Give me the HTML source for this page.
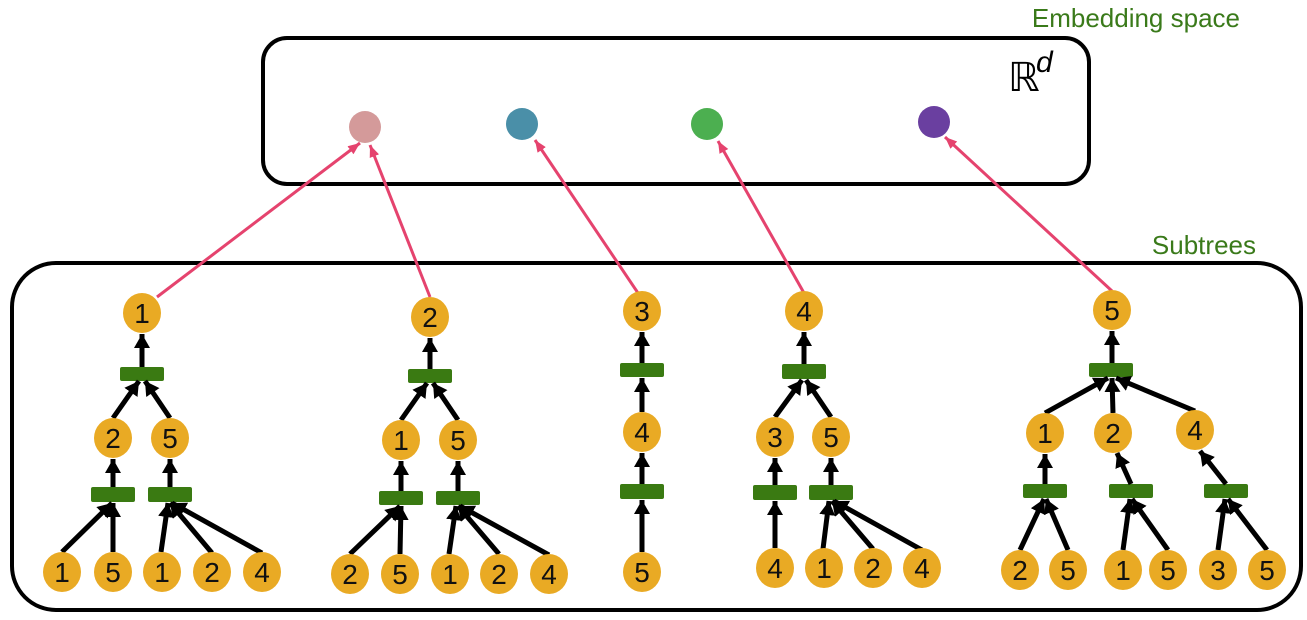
<!DOCTYPE html>
<html><head><meta charset="utf-8"><style>
html,body{margin:0;padding:0;background:#fff;}
svg{display:block;}
text{font-family:"Liberation Sans",sans-serif;}
</style></head><body>
<svg width="1307" height="620" viewBox="0 0 1307 620" xmlns="http://www.w3.org/2000/svg">
<defs>
<marker id="ah" markerUnits="userSpaceOnUse" markerWidth="18" markerHeight="18" refX="14" refY="8" orient="auto">
<path d="M0,0 L14,8 L0,16 z" fill="#000"/>
</marker>
<marker id="ph" markerUnits="userSpaceOnUse" markerWidth="14" markerHeight="12" refX="12" refY="5" orient="auto">
<path d="M0,0 L12,5 L0,10 z" fill="#e5436e"/>
</marker>
</defs>
<text x="1240" y="27" font-size="26" fill="#3a7a1a" text-anchor="end">Embedding space</text>
<text x="1256" y="254" font-size="26" fill="#3a7a1a" text-anchor="end">Subtrees</text>
<rect x="263" y="38" width="826" height="146" rx="24" fill="none" stroke="#000" stroke-width="4"/>
<rect x="12" y="263" width="1289" height="347" rx="44" fill="none" stroke="#000" stroke-width="4"/>
<text x="1008" y="91" font-size="40" font-family="Liberation Serif,serif" fill="#000">ℝ</text>
<text x="1036" y="72" font-size="30" font-style="italic" font-family="Liberation Serif,serif" fill="#000">d</text>
<ellipse cx="365" cy="127" rx="16" ry="16" fill="#d49a9a"/>
<ellipse cx="522" cy="124" rx="16" ry="16" fill="#4a8fa8"/>
<ellipse cx="707" cy="124" rx="16" ry="16" fill="#4caf50"/>
<ellipse cx="934" cy="122" rx="16" ry="16" fill="#6a3fa0"/>
<g stroke="#e5436e" stroke-width="3" marker-end="url(#ph)">
<line x1="157" y1="297" x2="360" y2="143"/>
<line x1="430" y1="297" x2="370" y2="145"/>
<line x1="638" y1="293" x2="535" y2="140"/>
<line x1="804" y1="293" x2="718" y2="141"/>
<line x1="1112" y1="291" x2="945" y2="137"/>
</g>
<g fill="#3a7a12">
<rect x="120" y="367" width="44" height="14" rx="2"/>
<rect x="91" y="487" width="44" height="15" rx="2"/><rect x="148" y="487" width="44" height="15" rx="2"/>
<rect x="408" y="369" width="44" height="14" rx="2"/>
<rect x="379" y="491" width="44" height="14" rx="2"/><rect x="436" y="491" width="44" height="14" rx="2"/>
<rect x="620" y="363" width="44" height="14" rx="2"/><rect x="620" y="484" width="44" height="15" rx="2"/>
<rect x="782" y="364" width="44" height="15" rx="2"/>
<rect x="753" y="485" width="44" height="15" rx="2"/><rect x="809" y="485" width="44" height="15" rx="2"/>
<rect x="1089" y="363" width="44" height="14" rx="2"/>
<rect x="1023" y="484" width="44" height="14" rx="2"/><rect x="1109" y="484" width="44" height="14" rx="2"/><rect x="1204" y="484" width="44" height="14" rx="2"/>
</g>
<g stroke="#000" stroke-width="5" marker-end="url(#ah)">
<line x1="142" y1="367" x2="142" y2="334"/>
<line x1="113" y1="418" x2="139" y2="381"/><line x1="170" y1="418" x2="145" y2="381"/>
<line x1="113" y1="487" x2="113" y2="459"/><line x1="170" y1="487" x2="170" y2="459"/>
<line x1="62" y1="552" x2="112" y2="503"/><line x1="113" y1="552" x2="113" y2="503"/>
<line x1="161" y1="552" x2="168" y2="503"/><line x1="212" y1="553" x2="170" y2="503"/><line x1="262" y1="553" x2="172" y2="503"/>
<line x1="430" y1="369" x2="430" y2="338"/>
<line x1="401" y1="420" x2="427" y2="383"/><line x1="458" y1="420" x2="433" y2="383"/>
<line x1="401" y1="491" x2="401" y2="461"/><line x1="458" y1="491" x2="458" y2="461"/>
<line x1="350" y1="554" x2="400" y2="506"/><line x1="400" y1="554" x2="401" y2="506"/>
<line x1="449" y1="554" x2="456" y2="506"/><line x1="499" y1="554" x2="458" y2="506"/><line x1="549" y1="555" x2="460" y2="506"/>
<line x1="642" y1="363" x2="642" y2="332"/>
<line x1="642" y1="412" x2="642" y2="378"/>
<line x1="642" y1="484" x2="642" y2="453"/>
<line x1="642" y1="552" x2="642" y2="500"/>
<line x1="804" y1="364" x2="804" y2="332"/>
<line x1="775" y1="417" x2="802" y2="380"/><line x1="831" y1="417" x2="806" y2="380"/>
<line x1="775" y1="485" x2="775" y2="458"/><line x1="831" y1="485" x2="831" y2="458"/>
<line x1="775" y1="548" x2="775" y2="501"/>
<line x1="823" y1="549" x2="829" y2="501"/><line x1="873" y1="549" x2="832" y2="501"/><line x1="922" y1="550" x2="834" y2="501"/>
<line x1="1112" y1="363" x2="1112" y2="331"/>
<line x1="1045" y1="413" x2="1108" y2="378"/><line x1="1113" y1="413" x2="1112" y2="378"/><line x1="1195" y1="411" x2="1116" y2="378"/>
<line x1="1045" y1="484" x2="1045" y2="454"/><line x1="1131" y1="484" x2="1117" y2="453"/><line x1="1226" y1="484" x2="1200" y2="451"/>
<line x1="1020" y1="550" x2="1044" y2="499"/><line x1="1068" y1="550" x2="1046" y2="499"/>
<line x1="1123" y1="550" x2="1130" y2="499"/><line x1="1168" y1="550" x2="1132" y2="499"/>
<line x1="1218" y1="550" x2="1225" y2="499"/><line x1="1267" y1="550" x2="1228" y2="499"/>
</g>
<g fill="#e9aa24">
<ellipse cx="142" cy="313" rx="19" ry="20"/><ellipse cx="113" cy="438" rx="19" ry="20"/><ellipse cx="170" cy="438" rx="19" ry="20"/>
<ellipse cx="62" cy="572" rx="19" ry="20"/><ellipse cx="113" cy="572" rx="19" ry="20"/><ellipse cx="162" cy="572" rx="19" ry="20"/><ellipse cx="212" cy="572" rx="19" ry="20"/><ellipse cx="262" cy="572" rx="19" ry="20"/>
<ellipse cx="430" cy="317" rx="19" ry="20"/><ellipse cx="401" cy="440" rx="19" ry="20"/><ellipse cx="458" cy="440" rx="19" ry="20"/>
<ellipse cx="350" cy="574" rx="19" ry="20"/><ellipse cx="400" cy="574" rx="19" ry="20"/><ellipse cx="450" cy="574" rx="19" ry="20"/><ellipse cx="499" cy="574" rx="19" ry="20"/><ellipse cx="549" cy="574" rx="19" ry="20"/>
<ellipse cx="642" cy="311" rx="19" ry="20"/><ellipse cx="642" cy="432" rx="19" ry="20"/><ellipse cx="642" cy="572" rx="19" ry="20"/>
<ellipse cx="804" cy="311" rx="19" ry="20"/><ellipse cx="775" cy="437" rx="19" ry="20"/><ellipse cx="831" cy="437" rx="19" ry="20"/>
<ellipse cx="775" cy="568" rx="19" ry="20"/><ellipse cx="824" cy="568" rx="19" ry="20"/><ellipse cx="873" cy="568" rx="19" ry="20"/><ellipse cx="922" cy="568" rx="19" ry="20"/>
<ellipse cx="1112" cy="310" rx="19" ry="20"/><ellipse cx="1045" cy="433" rx="19" ry="20"/><ellipse cx="1113" cy="433" rx="19" ry="20"/><ellipse cx="1195" cy="430" rx="19" ry="20"/>
<ellipse cx="1020" cy="570" rx="19" ry="20"/><ellipse cx="1068" cy="570" rx="19" ry="20"/><ellipse cx="1123" cy="570" rx="19" ry="20"/><ellipse cx="1168" cy="570" rx="19" ry="20"/><ellipse cx="1218" cy="570" rx="19" ry="20"/><ellipse cx="1267" cy="570" rx="19" ry="20"/>
</g>
<g font-size="28" text-anchor="middle" fill="#111">
<text x="142" y="323">1</text><text x="113" y="448">2</text><text x="170" y="448">5</text>
<text x="62" y="582">1</text><text x="113" y="582">5</text><text x="162" y="582">1</text><text x="212" y="582">2</text><text x="262" y="582">4</text>
<text x="430" y="327">2</text><text x="401" y="450">1</text><text x="458" y="450">5</text>
<text x="350" y="584">2</text><text x="400" y="584">5</text><text x="450" y="584">1</text><text x="499" y="584">2</text><text x="549" y="584">4</text>
<text x="642" y="321">3</text><text x="642" y="442">4</text><text x="642" y="582">5</text>
<text x="804" y="321">4</text><text x="775" y="447">3</text><text x="831" y="447">5</text>
<text x="775" y="578">4</text><text x="824" y="578">1</text><text x="873" y="578">2</text><text x="922" y="578">4</text>
<text x="1112" y="320">5</text><text x="1045" y="443">1</text><text x="1113" y="443">2</text><text x="1195" y="440">4</text>
<text x="1020" y="580">2</text><text x="1068" y="580">5</text><text x="1123" y="580">1</text><text x="1168" y="580">5</text><text x="1218" y="580">3</text><text x="1267" y="580">5</text>
</g>
</svg>
</body></html>
